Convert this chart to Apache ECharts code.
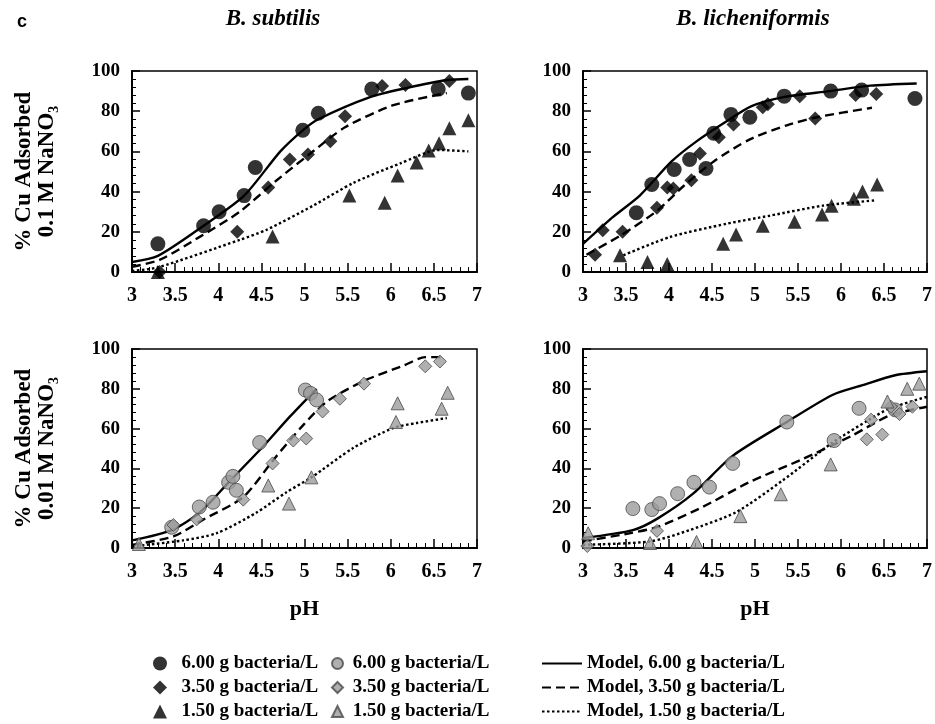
<!DOCTYPE html>
<html>
<head>
<meta charset="utf-8">
<script src="https://cdn.jsdelivr.net/npm/echarts@6/dist/echarts.min.js"></script>
<style>
html,body{margin:0;padding:0;background:#fff;}
#chart{width:935px;height:724px;}
</style>
</head>
<body>
<div id="chart"></div>
<script>
// ---- tick labels / ranges ----
const xTicks = [3, 3.5, 4, 4.5, 5, 5.5, 6, 6.5, 7];
const yTicks = [0, 20, 40, 60, 80, 100];
const panelTitles = ['B. subtilis', 'B. licheniformis'];
const yNames = ['% Cu Adsorbed\n0.1 M NaNO\u2083', '% Cu Adsorbed\n0.01 M NaNO\u2083'];
const legendObsLabels = ['6.00 g bacteria/L', '3.50 g bacteria/L', '1.50 g bacteria/L'];
const legendModelLabels = ['Model, 6.00 g bacteria/L', 'Model, 3.50 g bacteria/L', 'Model, 1.50 g bacteria/L'];

// ---- B. subtilis, 0.1 M NaNO3 ----
const sub01_obs6 = [[3.30,14],[3.83,23],[4.01,30],[4.30,38],[4.43,52],[4.98,70.5],[5.16,79],[5.78,91],[6.55,91],[6.90,89]];
const sub01_obs35 = [[3.32,0],[4.22,20],[4.58,42],[4.83,56],[5.04,58.5],[5.30,65],[5.47,77.5],[5.90,92.5],[6.17,93],[6.68,95]];
const sub01_obs15 = [[3.30,0],[4.63,17.6],[5.52,38],[5.93,34.5],[6.08,48],[6.30,54.5],[6.44,60.5],[6.56,64],[6.68,71.5],[6.90,75.5]];
const sub01_m6 = [[3.0,5],[3.3,8],[3.83,23],[4.3,38],[4.72,60],[4.98,70.5],[5.16,76],[5.76,87],[6.18,91.5],[6.65,95.5],[6.9,96]];
const sub01_m35 = [[3.0,2.6],[3.32,6],[3.79,17.6],[4.25,30],[4.66,45],[5.04,58],[5.47,72],[6.03,83],[6.65,89]];
const sub01_m15 = [[3.0,0.5],[3.3,2.3],[4.25,16],[4.56,21],[5.10,33],[5.57,44.4],[6.11,54],[6.55,60.7],[6.9,60]];

// ---- B. licheniformis, 0.1 M NaNO3 ----
const lic01_obs6 = [[3.62,29.5],[3.80,43.5],[4.06,51],[4.24,56],[4.43,51.5],[4.52,69],[4.72,78.4],[4.94,77],[5.34,87.5],[5.88,90],[6.24,90.5],[6.86,86.3]];
const lic01_obs35 = [[3.14,8.6],[3.23,20.8],[3.46,20],[3.86,32],[3.98,42],[4.05,41.5],[4.26,45.7],[4.36,59],[4.58,67],[4.75,73.4],[5.09,82],[5.15,83.4],[5.52,87.5],[5.70,76.4],[6.17,88],[6.41,88.5]];
const lic01_obs15 = [[3.43,8.3],[3.75,5],[3.98,4],[4.63,14],[4.78,18.6],[5.09,23],[5.46,25],[5.78,28.6],[5.89,33],[6.15,36.5],[6.25,40],[6.42,43.5]];
const lic01_m6 = [[3.0,14],[3.35,27.4],[3.66,38],[4.03,55],[4.32,65],[4.67,75],[4.96,82.5],[5.33,87],[5.87,90],[6.34,92.7],[6.88,93.8]];
const lic01_m35 = [[3.04,8.6],[3.43,18],[3.86,30.4],[4.17,42.8],[4.52,55],[4.94,66],[5.37,73],[5.72,77],[6.36,81.7]];
const lic01_m15 = [[3.47,8.3],[4.01,17.4],[4.67,24],[5.17,28],[5.79,33],[6.41,35.7]];

// ---- B. subtilis, 0.01 M NaNO3 ----
const sub001_obs6 = [[3.46,10.4],[3.78,20.6],[3.94,23],[4.12,33],[4.17,36],[4.21,29],[4.48,53],[5.01,79.4],[5.07,77.7],[5.14,74.4]];
const sub001_obs35 = [[3.48,11.6],[3.75,14.4],[4.29,24.3],[4.63,42.5],[4.87,54],[5.02,55],[5.21,68.6],[5.41,75],[5.69,82.6],[6.40,91.3],[6.57,93.7]];
const sub001_obs15 = [[3.08,2],[4.58,31.4],[4.82,22.3],[5.08,35.5],[6.06,63.3],[6.08,72.7],[6.59,70],[6.66,78]];
const sub001_m6 = [[3.0,3.8],[3.46,9],[3.79,18],[4.12,33],[4.52,51],[4.83,66],[5.14,80]];
const sub001_m35 = [[3.0,1.6],[3.48,5.8],[3.83,14.4],[4.29,25.6],[4.66,45.4],[4.99,62],[5.26,73.6],[5.68,83.8],[6.15,91.7],[6.40,95.9],[6.61,95.9]];
const sub001_m15 = [[3.0,0.8],[3.59,3.8],[3.98,7.4],[4.44,17.7],[4.79,28],[5.08,35.5],[5.57,50.4],[6.03,60.3],[6.30,62.8],[6.65,65.3]];

// ---- B. licheniformis, 0.01 M NaNO3 ----
const lic001_obs6 = [[3.58,19.8],[3.80,19.3],[3.89,22.3],[4.10,27.3],[4.29,33],[4.47,30.6],[4.74,42.5],[5.37,63.3],[5.92,54],[6.21,70.2],[6.63,69.4]];
const lic001_obs35 = [[3.05,1],[3.86,8.6],[6.30,54.6],[6.35,64.5],[6.48,57],[6.58,71],[6.68,67.3],[6.83,71]];
const lic001_obs15 = [[3.06,7.4],[3.78,2.5],[4.32,3],[4.83,16],[5.30,27],[5.88,42],[6.54,73.6],[6.77,80],[6.91,82.6]];
const lic001_m6 = [[3.0,5],[3.58,9],[3.87,14.9],[4.28,27.3],[4.74,46.3],[5.37,63.3],[5.90,76.9],[6.25,81.8],[6.63,86.8],[7.0,88.8]];
const lic001_m35 = [[3.0,3.3],[3.54,7.4],[3.87,10.6],[4.39,20.6],[4.93,33],[5.55,44.6],[6.13,56.5],[6.56,66.5],[7.0,71]];
const lic001_m15 = [[3.0,1.6],[3.78,3.3],[4.24,9],[4.78,18],[5.32,33.9],[5.90,52.9],[6.33,64.5],[6.56,70],[7.0,76]];

// ---------------------------------------------------------------
const SERIF = '"Liberation Serif", "Times New Roman", serif';
const panels = [
  {obs:[sub01_obs6, sub01_obs35, sub01_obs15], mod:[sub01_m6, sub01_m35, sub01_m15], gray:false},
  {obs:[lic01_obs6, lic01_obs35, lic01_obs15], mod:[lic01_m6, lic01_m35, lic01_m15], gray:false},
  {obs:[sub001_obs6, sub001_obs35, sub001_obs15], mod:[sub001_m6, sub001_m35, sub001_m15], gray:true},
  {obs:[lic001_obs6, lic001_obs35, lic001_obs15], mod:[lic001_m6, lic001_m35, lic001_m15], gray:true}
];
const grids = [
  {left:132, top:71, width:345, height:201},
  {left:583, top:71, width:344, height:201},
  {left:132, top:349, width:345, height:199},
  {left:583, top:349, width:345, height:199}
];
const symbols = ['circle', 'diamond', 'triangle'];
const symSizes = [15, 14, 14];
const obsNamesBlack = ['obs6', 'obs35', 'obs15'];
const obsNamesGray = ['obs6g', 'obs35g', 'obs15g'];
const modNames = ['m6', 'm35', 'm15'];
const modTypes = ['solid', [9, 5], [2.5, 2.5]];
const labelMap = {
  obs6: legendObsLabels[0], obs35: legendObsLabels[1], obs15: legendObsLabels[2],
  obs6g: legendObsLabels[0], obs35g: legendObsLabels[1], obs15g: legendObsLabels[2],
  m6: legendModelLabels[0], m35: legendModelLabels[1], m15: legendModelLabels[2]
};

const xAxes = [], yAxes = [], series = [];
grids.forEach((g, i) => {
  xAxes.push({
    type:'value', gridIndex:i, min:xTicks[0], max:xTicks[xTicks.length-1], interval:0.5,
    axisLine:{show:true, onZero:false, lineStyle:{color:'#000', width:2}},
    axisTick:{show:true, inside:true, length:9, lineStyle:{color:'#000', width:1.5}},
    minorTick:{show:true, splitNumber:5, length:5, lineStyle:{color:'#000', width:1}},
    splitLine:{show:false},
    axisLabel:{color:'#000', fontFamily:SERIF, fontWeight:'bold', fontSize:20, margin:14,
               showMinLabel:true, showMaxLabel:true, formatter:(v)=>String(v)},
    name: i >= 2 ? 'pH' : '',
    nameLocation:'middle', nameGap:50,
    nameTextStyle:{color:'#000', fontFamily:SERIF, fontWeight:'bold', fontSize:22}
  });
  yAxes.push({
    type:'value', gridIndex:i, min:yTicks[0], max:yTicks[yTicks.length-1], interval:20,
    axisLine:{show:true, onZero:false, lineStyle:{color:'#000', width:2}},
    axisTick:{show:true, inside:true, length:8, lineStyle:{color:'#000', width:1.5}},
    minorTick:{show:true, splitNumber:5, length:4, lineStyle:{color:'#000', width:1}},
    splitLine:{show:false},
    axisLabel:{color:'#000', fontFamily:SERIF, fontWeight:'bold', fontSize:19, margin:12,
               showMinLabel:true, showMaxLabel:true},
    name: (i % 2 === 0) ? yNames[i >> 1] : '',
    nameLocation:'middle', nameRotate:90, nameGap:73,
    nameTextStyle:{color:'#000', fontFamily:SERIF, fontWeight:'bold', fontSize:23, lineHeight:23}
  });
  const p = panels[i];
  p.mod.forEach((d, k) => {
    series.push({
      type:'line', name:modNames[k], xAxisIndex:i, yAxisIndex:i, data:d,
      symbol:'none', showSymbol:false, smooth:0.25, z:2, silent:true,
      lineStyle:{color:'#000', width:2.4, type:modTypes[k]},
      itemStyle:{color:'#000'}
    });
  });
  p.obs.forEach((d, k) => {
    series.push({
      type:'scatter', name:(p.gray ? obsNamesGray : obsNamesBlack)[k], xAxisIndex:i, yAxisIndex:i, data:d,
      symbol:symbols[k], symbolSize: p.gray ? symSizes[k] - 1 : symSizes[k], z:5, silent:true,
      itemStyle: p.gray ? {color:'#9c9c9c', borderColor:'#4a4a4a', borderWidth:1}
                        : {color:'#000'}
    });
  });
});

const legendText = {color:'#000', fontFamily:SERIF, fontWeight:'bold', fontSize:19, lineHeight:18};
const option = {
  backgroundColor:'#fff',
  animation:false,
  title:[
    {text:'c', left:12, top:8, textStyle:{fontFamily:'"Liberation Sans", Arial, sans-serif', fontWeight:'bold', fontSize:18, color:'#000'}},
    {text:panelTitles[0], left:268, top:3, textAlign:'center', textStyle:{fontFamily:SERIF, fontStyle:'italic', fontWeight:'bold', fontSize:23, color:'#000'}},
    {text:panelTitles[1], left:748, top:3, textAlign:'center', textStyle:{fontFamily:SERIF, fontStyle:'italic', fontWeight:'bold', fontSize:23, color:'#000'}}
  ],
  grid: grids.map(g => Object.assign({show:true, borderColor:'#000', borderWidth:1.5, backgroundColor:'transparent'}, g)),
  xAxis:xAxes,
  yAxis:yAxes,
  legend:[
    {data:obsNamesBlack, left:153, top:654, height:70, orient:'vertical', itemGap:5, itemWidth:14, itemHeight:14, padding:0,
     textStyle:legendText, formatter:(n)=>'  ' + labelMap[n], selectedMode:false},
    {data:obsNamesGray, left:331, top:654, height:70, orient:'vertical', itemGap:5, itemWidth:11, itemHeight:11, padding:0,
     textStyle:legendText, formatter:(n)=>' ' + labelMap[n], selectedMode:false},
    {data:modNames, left:541, top:654, height:70, orient:'vertical', itemGap:5, itemWidth:40, itemHeight:14, padding:0,
     itemStyle:{opacity:0, borderWidth:0},
     textStyle:legendText, formatter:(n)=>labelMap[n], selectedMode:false}
  ],
  series:series
};
const chart = echarts.init(document.getElementById('chart'), null, {renderer:'canvas'});
chart.setOption(option);
</script>
</body>
</html>
